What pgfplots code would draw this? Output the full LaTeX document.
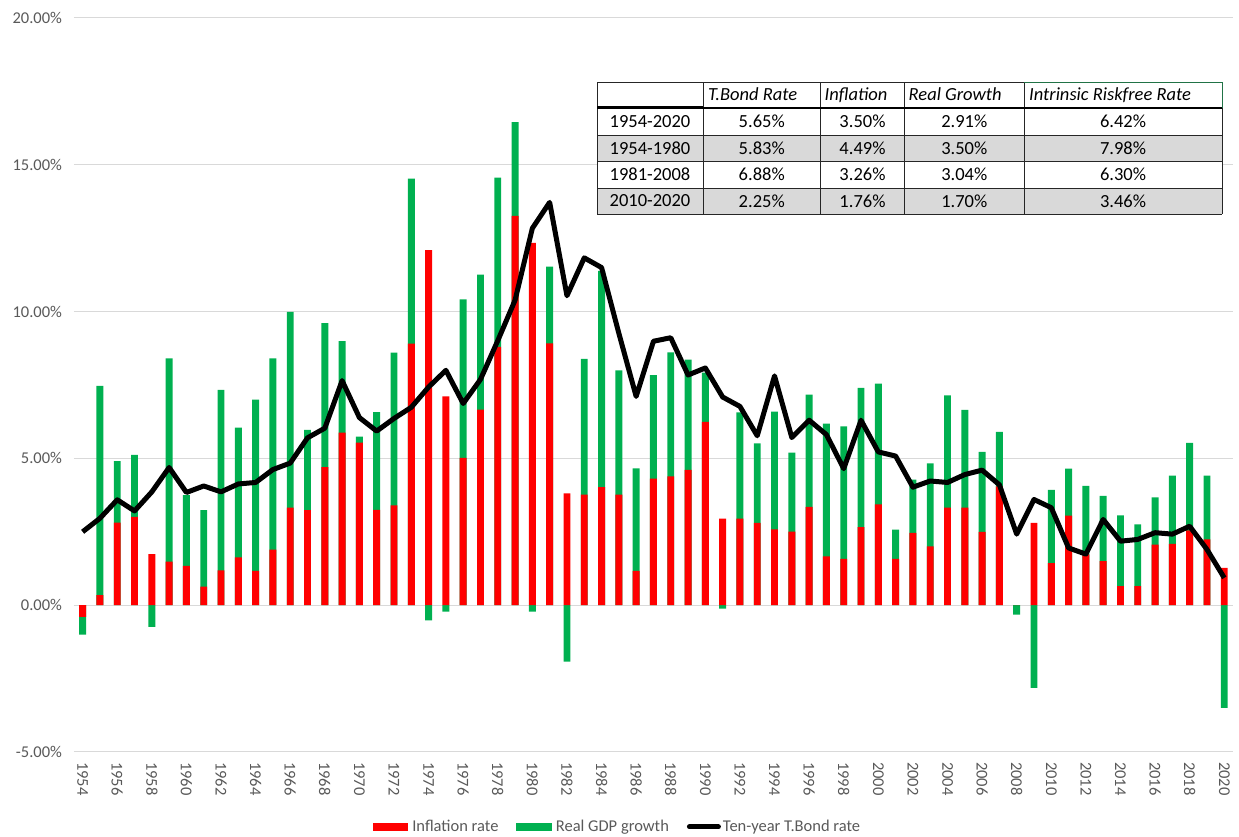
\documentclass[border=0pt]{standalone}
\usepackage{pgfplots}
\pgfplotsset{compat=1.18}
\usepackage{pgfplotstable}
\usepackage{fontspec}
\setmainfont{Carlito}
\definecolor{infred}{HTML}{FF0000}
\definecolor{gdpgreen}{HTML}{00B050}
\definecolor{ticktext}{HTML}{595959}
\definecolor{gridgray}{HTML}{D9D9D9}
\definecolor{cellgray}{HTML}{D9D9D9}
\definecolor{selgreen}{HTML}{217346}

\pgfplotstableread{
year infl growth tbond
1954 -0.40 -0.60 2.50
1955 0.34 7.13 2.96
1956 2.81 2.10 3.59
1957 3.01 2.11 3.21
1958 1.74 -0.74 3.86
1959 1.48 6.93 4.69
1960 1.34 2.41 3.84
1961 0.63 2.61 4.06
1962 1.19 6.14 3.86
1963 1.63 4.42 4.13
1964 1.17 5.83 4.18
1965 1.89 6.52 4.62
1966 3.32 6.67 4.84
1967 3.24 2.73 5.70
1968 4.70 4.91 6.03
1969 5.88 3.11 7.65
1970 5.54 0.20 6.39
1971 3.25 3.33 5.93
1972 3.40 5.20 6.36
1973 8.91 5.62 6.74
1974 12.09 -0.52 7.43
1975 7.11 -0.22 8.00
1976 5.02 5.40 6.87
1977 6.66 4.60 7.69
1978 8.80 5.76 9.01
1979 13.26 3.19 10.39
1980 12.34 -0.22 12.84
1981 8.92 2.61 13.72
1982 3.81 -1.92 10.54
1983 3.77 4.62 11.83
1984 4.02 7.37 11.50
1985 3.77 4.23 9.26
1986 1.17 3.49 7.11
1987 4.31 3.53 8.99
1988 4.39 4.22 9.11
1989 4.61 3.75 7.84
1990 6.24 1.68 8.08
1991 2.95 -0.12 7.09
1992 2.95 3.62 6.77
1993 2.80 2.71 5.77
1994 2.58 4.01 7.81
1995 2.51 2.69 5.71
1996 3.35 3.82 6.30
1997 1.66 4.52 5.81
1998 1.58 4.51 4.65
1999 2.66 4.74 6.30
2000 3.43 4.12 5.22
2001 1.58 0.99 5.08
2002 2.46 1.82 4.02
2003 2.00 2.83 4.23
2004 3.32 3.83 4.18
2005 3.32 3.33 4.45
2006 2.50 2.72 4.60
2007 4.05 1.85 4.10
2008 0.00 -0.32 2.42
2009 2.80 -2.82 3.60
2010 1.43 2.50 3.32
2011 3.05 1.60 1.95
2012 1.73 2.33 1.74
2013 1.50 2.22 2.92
2014 0.65 2.41 2.18
2015 0.65 2.10 2.24
2016 2.06 1.61 2.47
2017 2.09 2.32 2.42
2018 2.55 2.98 2.69
2019 2.24 2.17 1.90
2020 1.27 -3.50 0.93
}\datatable

\begin{document}
\begin{tikzpicture}
\begin{axis}[
  at={(74pt,85pt)}, anchor=south west,
  scale only axis, width=1159pt, height=734pt,
  xmin=1953.5, xmax=2020.5, ymin=-5, ymax=20,
  ytick={-5,0,5,10,15,20},
  yticklabels={-5.00\%,0.00\%,5.00\%,10.00\%,15.00\%,20.00\%},
  xtick={1954,1956,...,2020},
  xticklabels={1954,1956,1958,1960,1962,1964,1966,1968,1970,1972,1974,1976,1978,1980,1982,1984,1986,1988,1990,1992,1994,1996,1998,2000,2002,2004,2006,2008,2010,2012,2014,2016,2018,2020},
  ymajorgrids, grid style={gridgray, line width=1pt},
  axis line style={draw=none},
  major tick length=0pt,
  tick label style={font=\fontsize{16.5}{20}\selectfont, text=ticktext},
  yticklabel style={xshift=-8.5pt},
  xticklabel style={rotate=-90, anchor=west},
  xticklabel shift=6.5pt,
  legend columns=3,
  legend style={at={(0.469,-0.102)}, anchor=center, draw=none, fill=none,
    font=\fontsize{16.5}{20}\selectfont, text=ticktext,
    /tikz/every even column/.append style={column sep=16pt}},
]
\addlegendimage{legend image code/.code={\fill[infred] (0pt,-3.5pt) rectangle (34pt,3.5pt); \path (37pt,0pt);}}
\addlegendentry{Inflation rate}
\addlegendimage{legend image code/.code={\fill[gdpgreen] (0pt,-3.5pt) rectangle (34pt,3.5pt); \path (37pt,0pt);}}
\addlegendentry{Real GDP growth}
\addlegendimage{legend image code/.code={\draw[black, line width=5pt, line cap=round] (3pt,0pt) -- (32pt,0pt);}}
\addlegendentry{Ten-year T.Bond rate}

\addplot[ybar, bar width=0.4, bar shift=0pt, fill=gdpgreen, draw=none, forget plot]
  table[x=year, y expr={ifthenelse(\thisrow{growth}<0, min(\thisrow{infl},0)+\thisrow{growth}, max(\thisrow{infl},0)+\thisrow{growth})}]{\datatable};
\addplot[ybar, bar width=0.4, bar shift=0pt, fill=infred, draw=none, forget plot]
  table[x=year, y=infl]{\datatable};
\addplot[black, line width=5pt, line join=round, mark=none, forget plot]
  table[x=year, y=tbond]{\datatable};
\end{axis}

% summary table
\begin{scope}[font=\fontsize{18.5}{22}\selectfont]
\fill[white] (597pt,623pt) rectangle (1222pt,755pt);
\fill[cellgray] (597pt,675.5pt) rectangle (1222pt,702pt);
\fill[cellgray] (597pt,623pt) rectangle (1222pt,649pt);
\draw[line width=0.8pt, black!85] (597pt,755pt) -- (1024pt,755pt);
\foreach \yy in {702,675.5,649,623} {\draw[line width=0.8pt, black!85] (597pt,\yy pt) -- (1222pt,\yy pt);}
\foreach \xx in {597,703,820.5,904.5,1024} {\draw[line width=0.8pt, black!85] (\xx pt,623pt) -- (\xx pt,755pt);}
\draw[line width=0.8pt, black!85] (1222pt,623pt) -- (1222pt,729pt);
\draw[line width=0.9pt, selgreen] (1024pt,755pt) -- (1222pt,755pt) -- (1222pt,729pt);
\draw[line width=3pt, black] (597pt,729pt) -- (703pt,729pt);
\draw[line width=1.6pt, black] (703pt,729pt) -- (1222pt,729pt);
\node[anchor=base west, inner sep=0pt] at (708pt,736pt) {\itshape T.Bond Rate};
\node[anchor=base west, inner sep=0pt] at (824.5pt,736pt) {\itshape Inflation};
\node[anchor=base west, inner sep=0pt] at (908.5pt,736pt) {\itshape Real Growth};
\node[anchor=base west, inner sep=0pt] at (1029pt,736pt) {\itshape Intrinsic Riskfree Rate};
\foreach \yy/\a/\b/\c/\d/\e in {715.5/1954-2020/5.65\%/3.50\%/2.91\%/6.42\%,
                                 688.75/1954-1980/5.83\%/4.49\%/3.50\%/7.98\%,
                                 662.25/1981-2008/6.88\%/3.26\%/3.04\%/6.30\%,
                                 636/2010-2020/2.25\%/1.76\%/1.70\%/3.46\%} {
  \node[inner sep=0pt] at (650pt,\yy pt) {\a};
  \node[inner sep=0pt] at (761.75pt,\yy pt) {\b};
  \node[inner sep=0pt] at (862.5pt,\yy pt) {\c};
  \node[inner sep=0pt] at (964.25pt,\yy pt) {\d};
  \node[inner sep=0pt] at (1123pt,\yy pt) {\e};
}
\end{scope}
\pgfresetboundingbox
\useasboundingbox (0pt,0pt) rectangle (1239pt,837pt);
\end{tikzpicture}
\end{document}
